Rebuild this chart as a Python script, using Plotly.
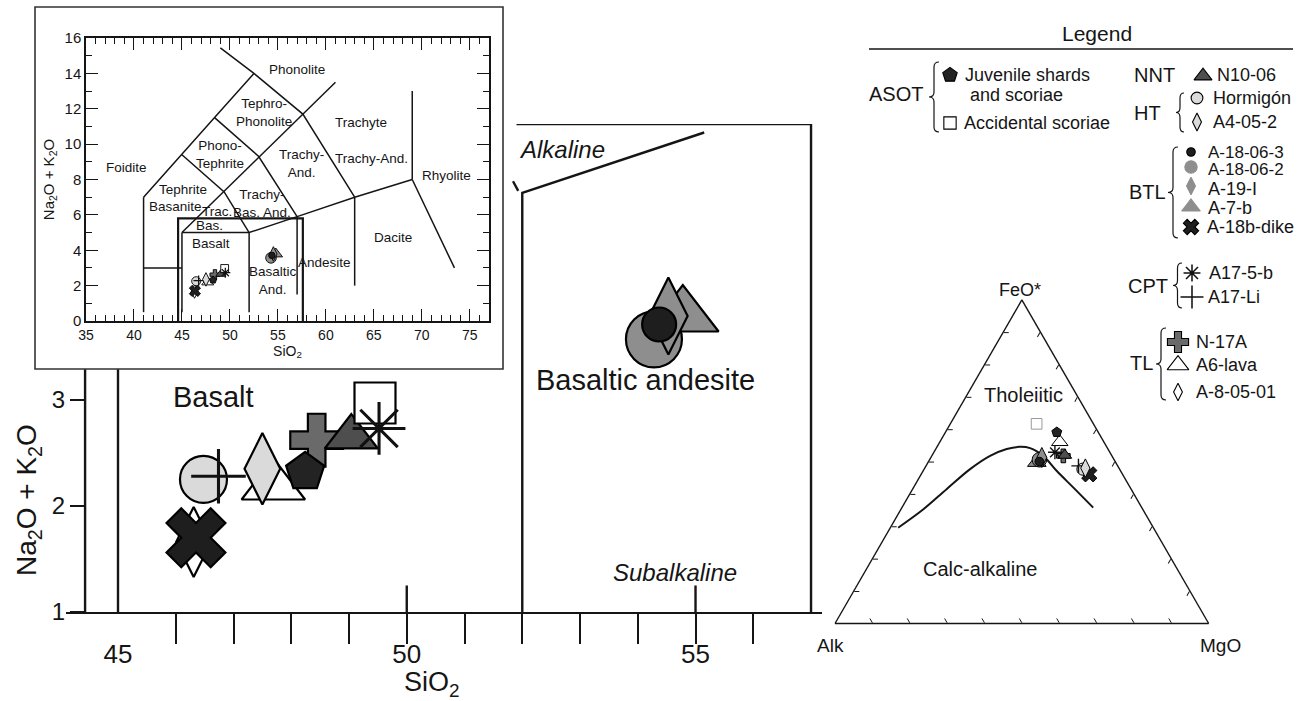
import plotly.graph_objects as go

FONT = "Liberation Sans, Arial, sans-serif"
INK = "#151515"

# ---------------- data ----------------
samples = ["Juvenile shards and scoriae", "Accidental scoriae", "N10-06", "Hormigón", "A4-05-2",
           "A-18-06-3", "A-18-06-2", "A-19-I", "A-7-b", "A-18b-dike",
           "A17-5-b", "A17-Li", "N-17A", "A6-lava", "A-8-05-01"]
sio2 = [48.24, 49.45, 49.04, 46.48, 47.50, 54.37, 54.28, 54.53, 54.78, 46.35, 49.52, 46.74, 48.44, 47.69, 46.31]
alkali = [2.32, 2.97, 2.65, 2.25, 2.35, 3.71, 3.57, 3.79, 3.79, 1.70, 2.73, 2.28, 2.62, 2.19, 1.66]
# AFM ternary: FeO* (top), Alk (left), MgO (right)
feo = [0.591, 0.617, 0.520, 0.477, 0.480, 0.500, 0.506, 0.513, 0.498, 0.461, 0.529, 0.487, 0.518, 0.561, 0.471]
alk_t = [0.111, 0.152, 0.125, 0.098, 0.090, 0.203, 0.200, 0.190, 0.211, 0.089, 0.147, 0.105, 0.130, 0.118, 0.093]
mgo = [0.298, 0.231, 0.355, 0.425, 0.430, 0.297, 0.294, 0.297, 0.291, 0.450, 0.324, 0.408, 0.352, 0.321, 0.436]

# Irvine & Baragar tholeiitic / calc-alkaline divide
curve_feo = [0.296, 0.353, 0.415, 0.477, 0.518, 0.539, 0.546, 0.542, 0.518, 0.472, 0.420, 0.358]
curve_alk = [0.683, 0.587, 0.494, 0.400, 0.326, 0.271, 0.232, 0.207, 0.184, 0.171, 0.152, 0.130]
curve_mgo = [0.021, 0.060, 0.091, 0.123, 0.156, 0.190, 0.222, 0.251, 0.298, 0.357, 0.428, 0.512]

# TAS field boundaries (inset)
tas_lines = [
    [(41, 0.5), (41, 7)],
    [(41, 3), (45, 3)],
    [(45, 0.5), (45, 5)],
    [(52, 0.5), (52, 5)],
    [(57, 1.5), (57, 5.9)],
    [(63, 2), (63, 7)],
    [(45, 5), (52, 5), (57, 5.9), (63, 7), (69, 8)],
    [(69, 8), (69, 13)],
    [(69, 8), (73.4, 3)],
    [(41, 7), (45, 9.4), (48.4, 11.5), (52.5, 14)],
    [(45, 9.4), (49.4, 7.3), (52, 5)],
    [(48.4, 11.5), (53, 9.3), (57, 5.9)],
    [(45, 5), (61, 13.5)],
    [(49, 15.44), (52.5, 14), (57.6, 11.7), (63, 7)],
]
zoom_box = [(44.6, 0), (44.6, 5.8), (57.6, 5.8), (57.6, 0)]
tas_labels = [
    ("Phonolite", 57.0, 14.2), ("Tephro-<br>Phonolite", 53.6, 11.8), ("Trachyte", 63.7, 11.2),
    ("Phono-<br>Tephrite", 49.0, 9.4), ("Trachy-<br>And.", 57.5, 8.9), ("Trachy-And.", 64.8, 9.2),
    ("Foidite", 39.2, 8.7), ("Rhyolite", 72.6, 8.25), ("Tephrite", 45.1, 7.45), ("Basanite", 44.3, 6.5),
    ("Trachy-<br>Bas. And.", 53.3, 6.65), ("Trac.", 48.6, 6.2), ("Bas.", 47.9, 5.4), ("Basalt", 48.0, 4.4),
    ("Basaltic<br>And.", 54.5, 2.3), ("Andesite", 59.9, 3.3), ("Dacite", 67.0, 4.7),
]

# main (zoomed) diagram boundaries
main_lines = [
    [(45, 1), (45, 3.29)],
    [(52, 1), (52, 4.95), (55.15, 5.52)],
    [(51.84, 5.06), (51.93, 4.97)],
    [(51.9, 5.6), (57, 5.6), (57, 1)],
    [(50, 1), (50, 1.25)],
    [(55, 1), (55, 1.25)],
]
main_labels = [("Basalt", 46.65, 3.03, False), ("Basaltic andesite", 54.13, 3.19, False),
               ("Alkaline", 52.69, 5.36, True), ("Subalkaline", 54.65, 1.37, True)]

# ---------------- styles ----------------
style = {
    "Juvenile shards and scoriae": dict(symbol="pentagon", color="#232323", size=40),
    "Accidental scoriae": dict(symbol="square", color="white", size=41),
    "N10-06": dict(symbol="triangle-up", color="#4e4e4e", size=46),
    "Hormigón": dict(symbol="circle", color="#dadada", size=47),
    "A4-05-2": dict(symbol="diamond-tall", color="#dadada", size=51),
    "A-18-06-3": dict(symbol="circle", color="#1e1e1e", size=34),
    "A-18-06-2": dict(symbol="circle", color="#8e8e8e", size=56),
    "A-19-I": dict(symbol="diamond-tall", color="#8e8e8e", size=55),
    "A-7-b": dict(symbol="triangle-up", color="#8e8e8e", size=62),
    "A-18b-dike": dict(symbol="x", color="#1e1e1e", size=52),
    "A17-5-b": dict(symbol="asterisk-open", color="#111111", size=44),
    "A17-Li": dict(symbol="cross-thin-open", color="#111111", size=39),
    "N-17A": dict(symbol="cross", color="#6a6a6a", size=44),
    "A6-lava": dict(symbol="triangle-up", color="white", size=55),
    "A-8-05-01": dict(symbol="diamond-tall", color="white", size=50),
}
draw_order = ["A-8-05-01", "A-18b-dike", "Hormigón", "A17-Li", "A6-lava", "A4-05-2", "N-17A",
              "Juvenile shards and scoriae", "N10-06", "Accidental scoriae", "A17-5-b",
              "A-7-b", "A-18-06-2", "A-19-I", "A-18-06-3"]


def mk(name, scale, lw, edge="black"):
    st = style[name]
    is_open = st["symbol"].endswith("-open")
    return dict(symbol=st["symbol"], size=max(st["size"] * scale, 5), color=st["color"],
                line=dict(color=st["color"] if is_open else edge, width=(lw * 1.4 if is_open else lw)))


fig = go.Figure()

for seg in main_lines:
    fig.add_trace(go.Scatter(x=[p[0] for p in seg], y=[p[1] for p in seg], mode="lines",
                             xaxis="x4", yaxis="y", line=dict(color=INK, width=2.4),
                             hoverinfo="skip", showlegend=False))

for seg in tas_lines:
    fig.add_trace(go.Scatter(x=[p[0] for p in seg], y=[p[1] for p in seg], mode="lines",
                             xaxis="x2", yaxis="y2", line=dict(color=INK, width=1.5),
                             hoverinfo="skip", showlegend=False))
fig.add_trace(go.Scatter(x=[p[0] for p in zoom_box], y=[p[1] for p in zoom_box], mode="lines",
                         xaxis="x2", yaxis="y2", line=dict(color=INK, width=2.2),
                         hoverinfo="skip", showlegend=False))

fig.add_trace(go.Scatterternary(a=curve_feo, b=curve_alk, c=curve_mgo, mode="lines",
                                line=dict(color=INK, width=2, shape="spline"),
                                hoverinfo="skip", showlegend=False))

for name in draw_order:
    i = samples.index(name)
    fig.add_trace(go.Scatter(x=[sio2[i]], y=[alkali[i]], mode="markers", xaxis="x", yaxis="y",
                             marker=mk(name, 1.0, 2.2), name=name, showlegend=False))
    fig.add_trace(go.Scatter(x=[sio2[i]], y=[alkali[i]], mode="markers", xaxis="x2", yaxis="y2",
                             marker=mk(name, 0.19, 0.9), name=name, showlegend=False))
    edge = "#9a9a9a" if name == "Accidental scoriae" else "black"
    fig.add_trace(go.Scatterternary(a=[feo[i]], b=[alk_t[i]], c=[mgo[i]], mode="markers",
                                    marker=mk(name, 0.26, 1.0, edge), name=name, showlegend=False))

# ---------------- legend (pixel axes x3/y3) ----------------
legend_marks = [
    ("Juvenile shards and scoriae", 950, 75, 0.38), ("Accidental scoriae", 950, 123, 0.3),
    ("N10-06", 1203, 76, 0.34), ("Hormigón", 1197, 98, 0.25), ("A4-05-2", 1197, 122, 0.25),
    ("A-18-06-3", 1191, 152, 0.25), ("A-18-06-2", 1191, 167, 0.22), ("A-19-I", 1191, 186, 0.23),
    ("A-7-b", 1191, 207, 0.26), ("A-18b-dike", 1191, 227, 0.26),
    ("A17-5-b", 1192, 273, 0.32), ("A17-Li", 1192, 297, 0.42),
    ("N-17A", 1178, 342, 0.4), ("A6-lava", 1178, 365, 0.34), ("A-8-05-01", 1178, 392, 0.25),
]
for name, px, py, sc in legend_marks:
    m = mk(name, sc, 1.1)
    if name in ("A-18-06-2", "A-19-I", "A-7-b"):
        m["line"]["color"] = m["color"]
    fig.add_trace(go.Scatter(x=[px], y=[py], mode="markers", xaxis="x3", yaxis="y3",
                             marker=m, hoverinfo="skip", showlegend=False))

legend_text = [
    ("Juvenile shards", 963, 75, "left", 18), ("and scoriae", 968, 95, "left", 18),
    ("Accidental scoriae", 962, 123, "left", 18),
    ("N10-06", 1215, 75, "left", 18), ("Hormigón", 1211, 98, "left", 18), ("A4-05-2", 1211, 122, "left", 18),
    ("A-18-06-3", 1206, 152, "left", 17), ("A-18-06-2", 1206, 169, "left", 17), ("A-19-I", 1206, 189, "left", 18),
    ("A-7-b", 1206, 208, "left", 18), ("A-18b-dike", 1205, 227, "left", 18),
    ("A17-5-b", 1207, 273, "left", 18), ("A17-Li", 1206, 297, "left", 18),
    ("N-17A", 1194, 342, "left", 18), ("A6-lava", 1194, 365, "left", 18), ("A-8-05-01", 1194, 392, "left", 18),
    ("ASOT", 925, 94, "right", 20), ("NNT", 1132, 75, "left", 20), ("HT", 1132, 113, "left", 20),
    ("BTL", 1127, 192, "left", 20), ("CPT", 1126, 286, "left", 20), ("TL", 1128, 363, "left", 20),
    ("Legend", 1097, 33, "center", 21),
    ("FeO*", 1020, 290, "center", 18), ("Alk", 830, 645, "center", 19), ("MgO", 1220, 645, "center", 19),
    ("Tholeiitic", 1023, 395, "center", 20), ("Calc-alkaline", 980, 569, "center", 20),
    ("Na<sub>2</sub>O + K<sub>2</sub>O", 28, 500, "center", 28), ("SiO<sub>2</sub>", 432, 684, "center", 27),
]

annotations = []
for txt, px, py, anc, fs in legend_text:
    annotations.append(dict(text=txt, x=px, y=py, xref="x3", yref="y3", xanchor=anc, yanchor="middle",
                            showarrow=False, font=dict(size=fs, family=FONT, color=INK),
                            textangle=-90 if txt.startswith("Na<sub>") else 0))
for txt, x, y in tas_labels:
    annotations.append(dict(text=txt, x=x, y=y, xref="x2", yref="y2", showarrow=False,
                            font=dict(size=13.5, family=FONT, color=INK), align="center"))
for txt, x, y, it in main_labels:
    annotations.append(dict(text=f"<i>{txt}</i>" if it else txt, x=x, y=y, xref="x", yref="y",
                            showarrow=False, font=dict(size=24 if it else 29, family=FONT, color=INK)))


def brace(xt, xr, y1, y2):
    xm = (xt + xr) / 2
    ym = (y1 + y2) / 2
    r = 5
    return (f"M{xr},{y1} Q{xm},{y1} {xm},{y1 + r} L{xm},{ym - r} Q{xm},{ym} {xt},{ym} "
            f"Q{xm},{ym} {xm},{ym + r} L{xm},{y2 - r} Q{xm},{y2} {xr},{y2}")


shapes = [
    dict(type="line", xref="x", yref="y", x0=44.43, x1=44.43, y0=1, y1=3.29, line=dict(color=INK, width=2.4)),
    dict(type="rect", xref="x3", yref="y3", x0=35, x1=503, y0=7, y1=369, line=dict(color="#333", width=1.6)),
    dict(type="line", xref="x3", yref="y3", x0=869, x1=1293, y0=49, y1=49, line=dict(color=INK, width=1.3)),
]
for xt, xr, y1, y2 in [(929, 939, 62, 132), (1176, 1184, 93, 132), (1168, 1178, 147, 238),
                       (1173, 1182, 263, 308), (1156, 1166, 328, 400)]:
    shapes.append(dict(type="path", xref="x3", yref="y3", path=brace(xt, xr, y1, y2),
                       line=dict(color=INK, width=1.2)))

W, H = 1304, 701
main_x0, main_x1 = 66 / W, 822 / W
fig.update_layout(
    width=W, height=H, margin=dict(l=0, r=0, t=0, b=0, pad=0, autoexpand=False), autosize=False,
    paper_bgcolor="white", plot_bgcolor="rgba(0,0,0,0)", showlegend=False,
    font=dict(family=FONT, color=INK),
    xaxis=dict(domain=[main_x0, main_x1], range=[44.0996, 57.19], anchor="y", automargin=False,
               showline=True, linecolor=INK, linewidth=2.4, showgrid=False, zeroline=False,
               tickmode="array", tickvals=list(range(46, 57)), ticks="outside", ticklen=30,
               tickwidth=2, tickcolor=INK, showticklabels=False),
    xaxis4=dict(overlaying="x", anchor="y", range=[44.0996, 57.19], showline=False, showgrid=False,
                automargin=False, zeroline=False, tickmode="array", tickvals=[45, 50, 55],
                ticktext=["45", "50", "55"], ticks="", tickfont=dict(size=26, family=FONT, color=INK),
                ticklabelstandoff=24),
    yaxis=dict(domain=[89 / H, 577 / H], range=[1, 5.6], anchor="free", position=85 / W, automargin=False,
               showline=False, showgrid=False, zeroline=False, tickmode="array", tickvals=[1, 2, 3],
               ticks="outside", ticklen=15, tickwidth=2.4, tickcolor=INK,
               tickfont=dict(size=24, family=FONT, color=INK)),
    xaxis2=dict(domain=[86 / W, 489 / W], range=[35, 77], anchor="y2", showline=True, mirror="ticks",
                automargin=False, linecolor=INK, linewidth=1.5, showgrid=False, zeroline=False, ticks="inside",
                ticklen=12, tickwidth=1.3, tickcolor=INK, tick0=35, dtick=5,
                minor=dict(dtick=1, ticks="inside", ticklen=6, tickwidth=1.1, tickcolor=INK),
                tickfont=dict(size=14, family=FONT, color=INK),
                title=dict(text="SiO<sub>2</sub>", font=dict(size=14, family=FONT, color=INK), standoff=2)),
    yaxis2=dict(domain=[(H - 321) / H, (H - 38) / H], range=[0, 16], anchor="x2", showline=True,
                automargin=False, mirror="ticks", linecolor=INK, linewidth=1.5, showgrid=False, zeroline=False,
                ticks="inside", ticklen=12, tickwidth=1.3, tickcolor=INK, tick0=0, dtick=2,
                minor=dict(dtick=1, ticks="inside", ticklen=6, tickwidth=1.1, tickcolor=INK),
                tickfont=dict(size=15, family=FONT, color=INK),
                title=dict(text="Na<sub>2</sub>O + K<sub>2</sub>O", font=dict(size=15, family=FONT, color=INK),
                           standoff=6)),
    xaxis3=dict(domain=[0, 1], range=[0, W], anchor="y3", visible=False, fixedrange=True, automargin=False),
    yaxis3=dict(domain=[0, 1], range=[H, 0], anchor="x3", visible=False, fixedrange=True, automargin=False),
    ternary=dict(
        domain=dict(x=[835 / W, 1208.7 / W], y=[(H - 623.5) / H, (H - 299.9) / H]),
        sum=1, bgcolor="rgba(0,0,0,0)",
        aaxis=dict(showgrid=False, showticklabels=False, ticks="inside", ticklen=5, dtick=0.1,
                   linecolor=INK, linewidth=1.4, tickcolor=INK, title=dict(text="")),
        baxis=dict(showgrid=False, showticklabels=False, ticks="inside", ticklen=5, dtick=0.1,
                   linecolor=INK, linewidth=1.4, tickcolor=INK, title=dict(text="")),
        caxis=dict(showgrid=False, showticklabels=False, ticks="inside", ticklen=5, dtick=0.1,
                   linecolor=INK, linewidth=1.4, tickcolor=INK, title=dict(text="")),
    ),
    annotations=annotations,
    shapes=shapes,
)

fig.write_html("out.html", config={"displayModeBar": False},
               post_script="document.body.style.margin='0px';document.body.style.overflow='hidden';")
